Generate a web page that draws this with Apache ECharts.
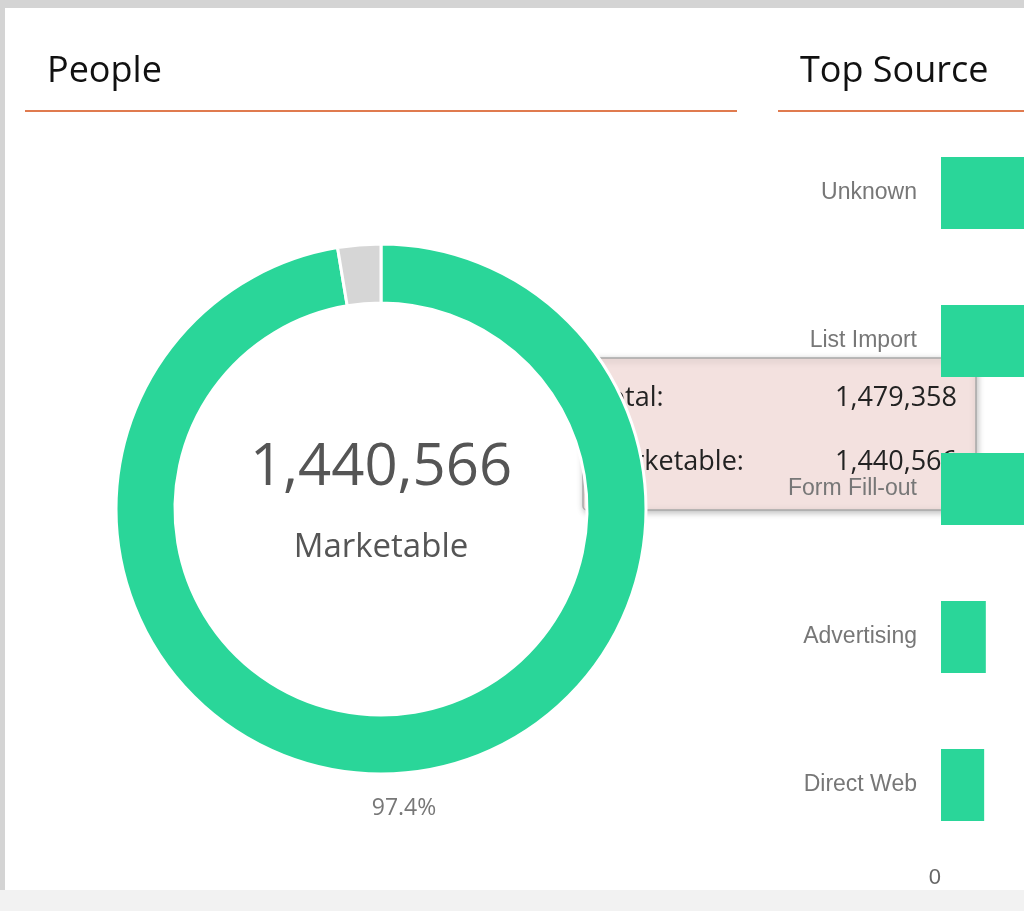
<!DOCTYPE html>
<html>
<head>
    <meta charset="utf-8">
    <script src="https://cdn.jsdelivr.net/npm/echarts@6/dist/echarts.min.js"></script>
    <style>
        html, body { margin: 0; padding: 0; background: #fff; }
        #main { width: 1024px; height: 911px; }
    </style>
</head>
<body>
    <div id="main"></div>
    <script>
        // people donut
        var peopleNames = ['Marketable', 'Not Marketable'];
        var peopleValues = [1440566, 38792];
        var totalPeople = 1479358;

        // top source bars (values estimated; first three run off the edge)
        var sourceNames = ['Unknown', 'List Import', 'Form Fill-out', 'Advertising', 'Direct Web'];
        var sourceValues = [160000, 140000, 120000, 54000, 52000];

        var fmt = function (v) { return v.toLocaleString('en-US'); };
        var pct = (peopleValues[0] / totalPeople * 100).toFixed(1) + '%';

        var chart = echarts.init(document.getElementById('main'));
        var font = '"Open Sans", "Noto Sans", sans-serif';

        var option = {
            backgroundColor: '#fff',
            animation: false,
            grid: { left: 941, right: 0, top: 119, bottom: 52 },
            xAxis: {
                type: 'value', min: 0, max: 100000, interval: 100000,
                splitLine: { show: false },
                axisLine: { show: false }, axisTick: { show: false },
                axisLabel: { color: '#666', fontSize: 22, fontFamily: 'Liberation Sans', margin: 8, align: 'right', showMaxLabel: false }
            },
            yAxis: {
                type: 'category', inverse: true, data: sourceNames,
                axisLine: { show: false }, axisTick: { show: false },
                axisLabel: { color: '#777', fontSize: 23, fontFamily: 'Liberation Sans', margin: 24 }
            },
            series: [
                {
                    type: 'pie', center: [381, 509], radius: [206, 265],
                    startAngle: 90, clockwise: true,
                    label: { show: false }, labelLine: { show: false },
                    itemStyle: { borderColor: '#fff', borderWidth: 3 },
                    data: peopleNames.map(function (n, i) {
                        return { name: n, value: peopleValues[i], itemStyle: { color: i === 0 ? '#2ad699' : '#d6d6d6' } };
                    })
                },
                {
                    type: 'bar', data: sourceValues, barWidth: 72,
                    itemStyle: { color: '#2ad699' }
                }
            ],
            graphic: [
                { type: 'rect', shape: { x: 0, y: 0, width: 1024, height: 8 }, style: { fill: '#d4d4d4' } },
                { type: 'rect', shape: { x: 0, y: 0, width: 5, height: 911 }, style: { fill: '#d4d4d4' } },
                { type: 'rect', shape: { x: 0, y: 890, width: 1024, height: 21 }, style: { fill: '#f2f2f2' } },
                { type: 'text', x: 47, y: 72, style: { text: 'People', fontSize: 36, fontFamily: font, fill: '#111', verticalAlign: 'middle' } },
                { type: 'text', x: 800, y: 72, style: { text: 'Top Source', fontSize: 36, fontFamily: font, fill: '#111', verticalAlign: 'middle' } },
                { type: 'rect', shape: { x: 25, y: 110, width: 712, height: 2 }, style: { fill: '#e07b4f' } },
                { type: 'rect', shape: { x: 778, y: 110, width: 260, height: 2 }, style: { fill: '#e07b4f' } },
                { type: 'text', x: 381, y: 468, style: { text: fmt(peopleValues[0]), fontSize: 58, fontFamily: font, fill: '#555', align: 'center', verticalAlign: 'middle' } },
                { type: 'text', x: 381, y: 548, style: { text: peopleNames[0], fontSize: 33, fontFamily: font, fill: '#555', align: 'center', verticalAlign: 'middle' } },
                { type: 'text', x: 404, y: 808, style: { text: pct, fontSize: 23, fontFamily: font, fill: '#777', align: 'center', verticalAlign: 'middle' } },
                {
                    type: 'group', zlevel: 5,
                    children: [
                        { type: 'rect', shape: { x: 583, y: 358, width: 393, height: 152, r: 4 },
                          style: { fill: '#f3e1df', stroke: '#a8a8a8', lineWidth: 1.5, shadowBlur: 6, shadowColor: 'rgba(0,0,0,0.25)', shadowOffsetX: 1, shadowOffsetY: 2 } },
                        { type: 'text', x: 594, y: 398, style: { text: 'Total:', fontSize: 27, fontFamily: font, fill: '#222', verticalAlign: 'middle' } },
                        { type: 'text', x: 957, y: 398, style: { text: fmt(totalPeople), fontSize: 27, fontFamily: font, fill: '#222', align: 'right', verticalAlign: 'middle' } },
                        { type: 'text', x: 594, y: 462, style: { text: 'Marketable:', fontSize: 27, fontFamily: font, fill: '#222', verticalAlign: 'middle' } },
                        { type: 'text', x: 957, y: 462, style: { text: fmt(peopleValues[0]), fontSize: 27, fontFamily: font, fill: '#222', align: 'right', verticalAlign: 'middle' } }
                    ]
                }
            ]
        };

        chart.setOption(option);
    </script>
</body>
</html>
